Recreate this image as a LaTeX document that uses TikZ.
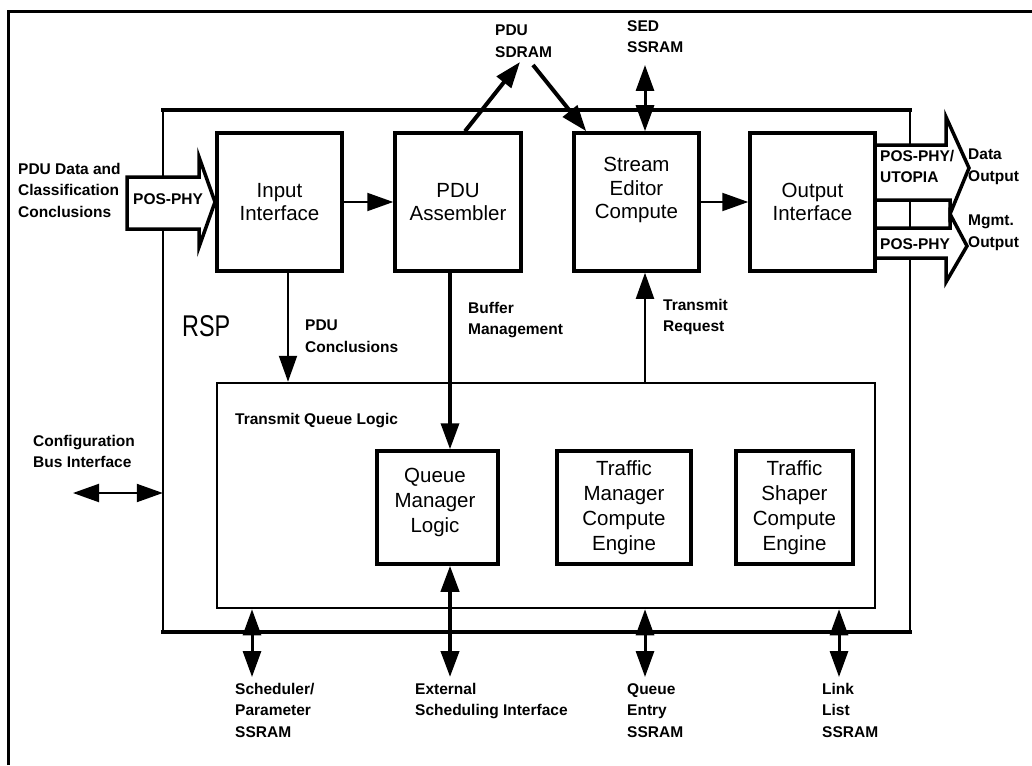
\documentclass[tikz,border=0pt]{standalone}
\usepackage{fontspec}
\usepackage{graphicx}
\setmainfont{Liberation Sans}
\usetikzlibrary{arrows.meta,calc}

\begin{document}
\begin{tikzpicture}[x=1pt,y=-1pt,
  unitbox/.style={draw, line width=3.5pt, fill=white, inner sep=0pt,
    minimum width=125pt, minimum height=138pt},
  engbox/.style={draw, line width=3.5pt, fill=white, inner sep=0pt,
    minimum height=113pt},
  boxtext/.style={font=\fontsize{20.5}{23.5}\selectfont, align=center, inner sep=0pt},
  engtext/.style={font=\fontsize{20.5}{25}\selectfont, align=center, inner sep=0pt},
  lbl/.style={font=\fontsize{15.5}{21.5}\selectfont\bfseries, align=left,
    anchor=north west, inner sep=0pt},
  thinline/.style={line width=2pt},
  thickline/.style={line width=3.5pt},
  arr/.style={-{Triangle[length=26pt,width=18pt]}},
  biarr/.style={{Triangle[length=26pt,width=18pt]}-{Triangle[length=26pt,width=18pt]}},
  fatarrow/.style={draw, line width=3.5pt, fill=white, line join=miter}
]
\useasboundingbox (0,0) rectangle (1032,765);

% page frame (top and left edges)
\draw[line width=3pt] (8,765) -- (8,12) -- (1032,12);

% RSP chip outline: heavy top and bottom, light sides
\node[inner sep=0pt, minimum width=747pt, minimum height=522pt] (rsp) at (536.5,371) {};
\draw[thinline] (rsp.north west) -- (rsp.south west);
\draw[thinline] (rsp.north east) -- (rsp.south east);
\draw[line width=4pt, line cap=rect] (rsp.north west) -- (rsp.north east);
\draw[line width=4pt, line cap=rect] (rsp.south west) -- (rsp.south east);
\node[anchor=north west, inner sep=0pt, font=\fontsize{30}{30}\selectfont] (rsplbl) at (182,315) {\scalebox{0.78}[1]{RSP}};

% transmit queue logic block
\node[draw, line width=2.5pt, fill=white, minimum width=658pt, minimum height=225pt, inner sep=0pt] (tql) at (546,495.5) {};
\node[lbl] (tqllbl) at (235,413) {Transmit Queue Logic};

% input side wide arrow
\draw[fatarrow] (127,177) -- (199,177) -- (199,157) -- (215,202) -- (199,247) -- (199,229) -- (127,229) -- cycle;
\node[lbl] (inphy) at (133,193) {POS-PHY};
\node[lbl] (inlbl) at (18,163) {PDU Data and\\Classification\\Conclusions};

% output side wide arrows
\draw[fatarrow] (875,145) -- (946,145) -- (946,117) -- (969,168) -- (950,214) -- (950,200) -- (875,200) -- cycle;
\draw[fatarrow] (875,228) -- (950,228) -- (950,214) -- (967,246) -- (946,282) -- (946,258) -- (875,258) -- cycle;
\node[lbl] (outphy) at (880,150) {POS-PHY/\\UTOPIA};
\node[lbl] (mgmtphy) at (880,238) {POS-PHY};
\node[lbl] (dataout) at (968,149) {Data\\Output};
\node[lbl] (mgmtout) at (968,215) {Mgmt.\\Output};

% processing units
\node[unitbox] (inif) at (279.5,202) {};
\node[boxtext] (iniftxt) at (inif) {Input\\Interface};
\node[unitbox, minimum width=126pt] (pdua) at (458,202) {};
\node[boxtext] (pduatxt) at (pdua) {PDU\\Assembler};
\node[unitbox] (sed) at (636.5,202) {};
\node[boxtext] (sedtxt) at (636.5,190) {Stream\\Editor\\Compute};
\node[unitbox] (outif) at (812.5,202) {};
\node[boxtext] (outiftxt) at (outif) {Output\\Interface};

% engines inside the queue logic
\node[engbox, minimum width=121pt] (qml) at (437.5,507.5) {};
\node[engtext] (qmltxt) at (435,502) {Queue\\Manager\\Logic};
\node[engbox, minimum width=134pt] (tmce) at (624,507.5) {};
\node[engtext] (tmcetxt) at (tmce) {Traffic\\Manager\\Compute\\Engine};
\node[engbox, minimum width=117pt] (tsce) at (794.5,507.5) {};
\node[engtext] (tscetxt) at (tsce) {Traffic\\Shaper\\Compute\\Engine};

% data path
\draw[thinline, arr] (inif.east) -- (pdua.west);
\draw[thinline, arr] (sed.east) -- (outif.west);

% PDU SDRAM
\node[lbl] (sdramlbl) at (495,25) {PDU\\SDRAM};
\coordinate (sdramin) at (520,62);
\coordinate (sdramout) at (533,65);
\coordinate (pduaup) at ($(pdua.north)+(7,0)$);
\coordinate (sedin) at ($(sed.north west)+(14,0)$);
\draw[line width=4pt, arr] (pduaup) -- (sdramin);
\draw[line width=4pt, arr] (sdramout) -- (sedin);

% SED SSRAM and transmit request
\node[lbl] (sedramlbl) at (627,20) {SED\\SSRAM};
\coordinate (sedram) at (645,65);
\draw[line width=3pt, biarr] (sedram) -- (sedram |- sed.north);
\draw[thinline, arr] (sedram |- tql.north) -- (sedram |- sed.south);
\node[lbl] (treqlbl) at (663,299) {Transmit\\Request};

% PDU conclusions
\coordinate (pdc) at ($(inif.south)+(8.5,0)$);
\draw[thinline, arr] (pdc) -- (pdc |- tql.north);
\node[lbl] (pdclbl) at (305,320) {PDU\\Conclusions};

% buffer management and external scheduling
\coordinate (bm) at ($(pdua.south)+(-8,0)$);
\draw[thickline, arr] (bm) -- (bm |- qml.north);
\node[lbl] (bmlbl) at (468,302) {Buffer\\Management};
\coordinate (ext) at (450,677);
\draw[line width=4pt, biarr] (ext |- qml.south) -- (ext);
\node[lbl] (extlbl) at (415,683) {External\\Scheduling Interface};

% configuration bus
\coordinate (cfg) at (73,493);
\draw[thinline, biarr] (cfg) -- (cfg -| rsp.west);
\node[lbl] (cfglbl) at (33,435) {Configuration\\Bus Interface};

% external SSRAMs below the chip
\coordinate (sched) at (252,677);
\coordinate (qent) at (645,677);
\coordinate (llist) at (839,677);
\draw[line width=3pt, biarr] (sched |- tql.south) -- (sched);
\draw[line width=3pt, biarr] (qent |- tql.south) -- (qent);
\draw[line width=3pt, biarr] (llist |- tql.south) -- (llist);
\node[lbl] (schedlbl) at (235,683) {Scheduler/\\Parameter\\SSRAM};
\node[lbl] (qentlbl) at (627,683) {Queue\\Entry\\SSRAM};
\node[lbl] (llistlbl) at (822,683) {Link\\List\\SSRAM};
\end{tikzpicture}
\end{document}
